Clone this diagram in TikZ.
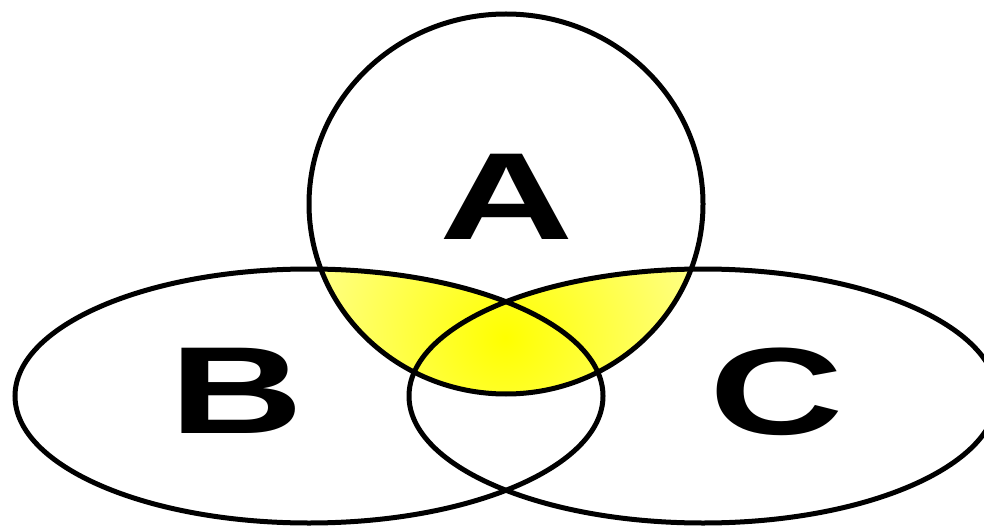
\documentclass[tikz,border=0pt]{standalone}
\usepackage{fontspec}
\setmainfont{Liberation Sans}
\begin{document}
\begin{tikzpicture}[x=0.5pt, y=-0.5pt,
	set/.style={draw=black, line width=2.5pt},
	setlabel/.style={font=\bfseries\fontsize{62}{62}\selectfont, xscale=1.5, anchor=base, inner sep=0pt},
	glow/.style={inner color=yellow, outer color=white},
	]
	\useasboundingbox (0,0) rectangle (984,529);
	\coordinate (ca) at (506,204);
	\coordinate (cb) at (309,396);
	\coordinate (cc) at (703,396);
	\coordinate (mid) at (505,338);
	% A and B
	\begin{scope}
		\clip (ca) ellipse [x radius=197, y radius=190];
		\clip (cb) ellipse [x radius=294, y radius=127];
		\shade[glow] (mid) circle [radius=380];
	\end{scope}
	% A and C
	\begin{scope}
		\clip (ca) ellipse [x radius=197, y radius=190];
		\clip (cc) ellipse [x radius=294, y radius=127];
		\shade[glow] (mid) circle [radius=380];
	\end{scope}
	\draw[set] (ca) ellipse [x radius=197, y radius=190];
	\draw[set] (cb) ellipse [x radius=294, y radius=127];
	\draw[set] (cc) ellipse [x radius=294, y radius=127];
	\node[setlabel] (la) at (507,240) {A};
	\node[setlabel] (lb) at (237,433) {B};
	\node[setlabel] (lc) at (777,434) {C};
\end{tikzpicture}
\end{document}
